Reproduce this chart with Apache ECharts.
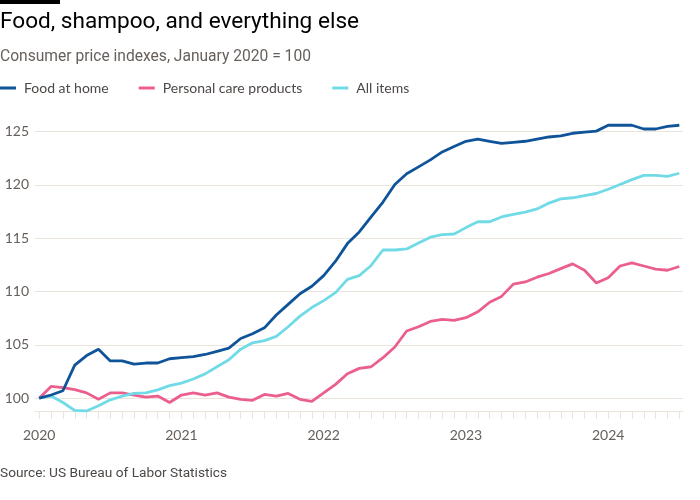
<!DOCTYPE html>
<html>
<head>
<meta charset="utf-8">
<script src="https://cdn.jsdelivr.net/npm/echarts@6/dist/echarts.min.js"></script>
<style>
html,body{margin:0;padding:0;background:#fff;}
#chart{width:700px;height:500px;}
</style>
</head>
<body>
<div id="chart"></div>
<script>
const months = [
 '2020-01','2020-02','2020-03','2020-04','2020-05','2020-06','2020-07','2020-08','2020-09','2020-10','2020-11','2020-12',
 '2021-01','2021-02','2021-03','2021-04','2021-05','2021-06','2021-07','2021-08','2021-09','2021-10','2021-11','2021-12',
 '2022-01','2022-02','2022-03','2022-04','2022-05','2022-06','2022-07','2022-08','2022-09','2022-10','2022-11','2022-12',
 '2023-01','2023-02','2023-03','2023-04','2023-05','2023-06','2023-07','2023-08','2023-09','2023-10','2023-11','2023-12',
 '2024-01','2024-02','2024-03','2024-04','2024-05','2024-06','2024-07'
];
const foodAtHome = [
 100.0,100.3,100.7,103.1,104.0,104.6,103.5,103.5,103.2,103.3,103.3,103.7,
 103.8,103.9,104.1,104.4,104.7,105.6,106.05,106.6,107.8,108.8,109.8,110.5,
 111.5,112.85,114.5,115.6,117.0,118.4,120.05,121.05,121.7,122.35,123.1,123.6,
 124.1,124.3,124.1,123.9,124.0,124.1,124.3,124.5,124.6,124.85,124.95,125.05,
 125.6,125.6,125.6,125.25,125.25,125.5,125.6
];
const personalCare = [
 100.0,101.1,101.0,100.8,100.5,99.9,100.5,100.5,100.3,100.1,100.2,99.6,
 100.3,100.5,100.3,100.5,100.1,99.9,99.8,100.35,100.2,100.45,99.9,99.7,
 100.5,101.3,102.3,102.8,102.95,103.8,104.8,106.3,106.7,107.2,107.4,107.3,
 107.55,108.1,109.0,109.55,110.7,110.9,111.35,111.7,112.15,112.6,112.0,110.8,
 111.3,112.4,112.7,112.4,112.1,112.0,112.35
];
const allItems = [
 100.0,100.2,99.6,98.85,98.8,99.3,99.85,100.2,100.45,100.5,100.78,101.18,
 101.42,101.8,102.28,102.95,103.6,104.6,105.2,105.4,105.8,106.7,107.7,108.5,
 109.15,109.9,111.15,111.5,112.45,113.9,113.9,114.0,114.55,115.1,115.35,115.4,
 116.0,116.55,116.55,117.0,117.25,117.45,117.75,118.3,118.7,118.8,119.0,119.2,
 119.6,120.05,120.5,120.9,120.9,120.8,121.1
];
const yTicks = [100, 105, 110, 115, 120, 125];
const yearLabels = ['2020', '2021', '2022', '2023', '2024'];
const seriesNames = ['Food at home', 'Personal care products', 'All items'];
const colors = ['#0f5499', '#eb5f8f', '#70dbe6'];

const monthIdx = months.map((m, i) => i);
const yearIdx = yearLabels.map(y => months.indexOf(y + '-01'));
const toPairs = arr => arr.map((v, i) => [i, v]);

const gridColor = '#ebe4dc';
const labelColor = '#66605c';
const font = 'Lato';
const headFont = 'Roboto';

const chart = echarts.init(document.getElementById('chart'), null, {renderer: 'canvas'});
chart.setOption({
  animation: false,
  backgroundColor: '#ffffff',
  textStyle: {fontFamily: font},
  graphic: [
    {type: 'rect', left: 0, top: 0, shape: {width: 60, height: 4}, style: {fill: '#000'}}
  ],
  title: [
    {text: 'Food, shampoo, and everything else', left: 0, top: 11, padding: 0,
     textStyle: {fontFamily: headFont, fontSize: 22.6, fontWeight: 'normal', color: '#000'}},
    {text: 'Consumer price indexes, January 2020 = 100', left: 0, top: 49, padding: 0,
     textStyle: {fontFamily: headFont, fontSize: 15.6, fontWeight: 'normal', color: labelColor}},
    {text: 'Source: US Bureau of Labor Statistics', left: 0, top: 467, padding: 0,
     textStyle: {fontFamily: headFont, fontSize: 13.7, fontWeight: 'normal', color: '#4d4845'}}
  ],
  legend: {
    left: 0, top: 81, padding: 0,
    icon: 'rect', itemWidth: 16, itemHeight: 3, itemGap: 30,
    data: seriesNames,
    textStyle: {fontFamily: font, fontSize: 14, color: '#4d4845', padding: [0, 0, 0, 3]}
  },
  grid: {left: 35, right: 17, top: 121, bottom: 89, containLabel: false},
  xAxis: {
    type: 'value', min: -0.354, max: 54.31,
    axisLine: {show: true, onZero: false, lineStyle: {color: gridColor, width: 1}},
    axisTick: {show: true, customValues: monthIdx, length: 8, lineStyle: {color: gridColor, width: 1}},
    axisLabel: {customValues: yearIdx, formatter: v => yearLabels[yearIdx.indexOf(Math.round(v))] || '',
      fontFamily: font, fontSize: 14, color: labelColor, margin: 17},
    splitLine: {show: false}
  },
  yAxis: {
    type: 'value', min: 98.8, max: 126,
    axisLine: {show: false},
    axisTick: {show: false, customValues: yTicks},
    axisLabel: {customValues: yTicks, fontFamily: font, fontSize: 14, color: labelColor, margin: 6},
    splitLine: {show: true, customValues: yTicks, lineStyle: {color: gridColor, width: 1}}
  },
  series: [
    {name: seriesNames[1], type: 'line', data: toPairs(personalCare), showSymbol: false, symbol: 'none',
     lineStyle: {color: colors[1], width: 2.8}, itemStyle: {color: colors[1]}, z: 2},
    {name: seriesNames[2], type: 'line', data: toPairs(allItems), showSymbol: false, symbol: 'none',
     lineStyle: {color: colors[2], width: 2.8}, itemStyle: {color: colors[2]}, z: 3},
    {name: seriesNames[0], type: 'line', data: toPairs(foodAtHome), showSymbol: false, symbol: 'none',
     lineStyle: {color: colors[0], width: 2.8}, itemStyle: {color: colors[0]}, z: 4}
  ]
});
</script>
</body>
</html>
